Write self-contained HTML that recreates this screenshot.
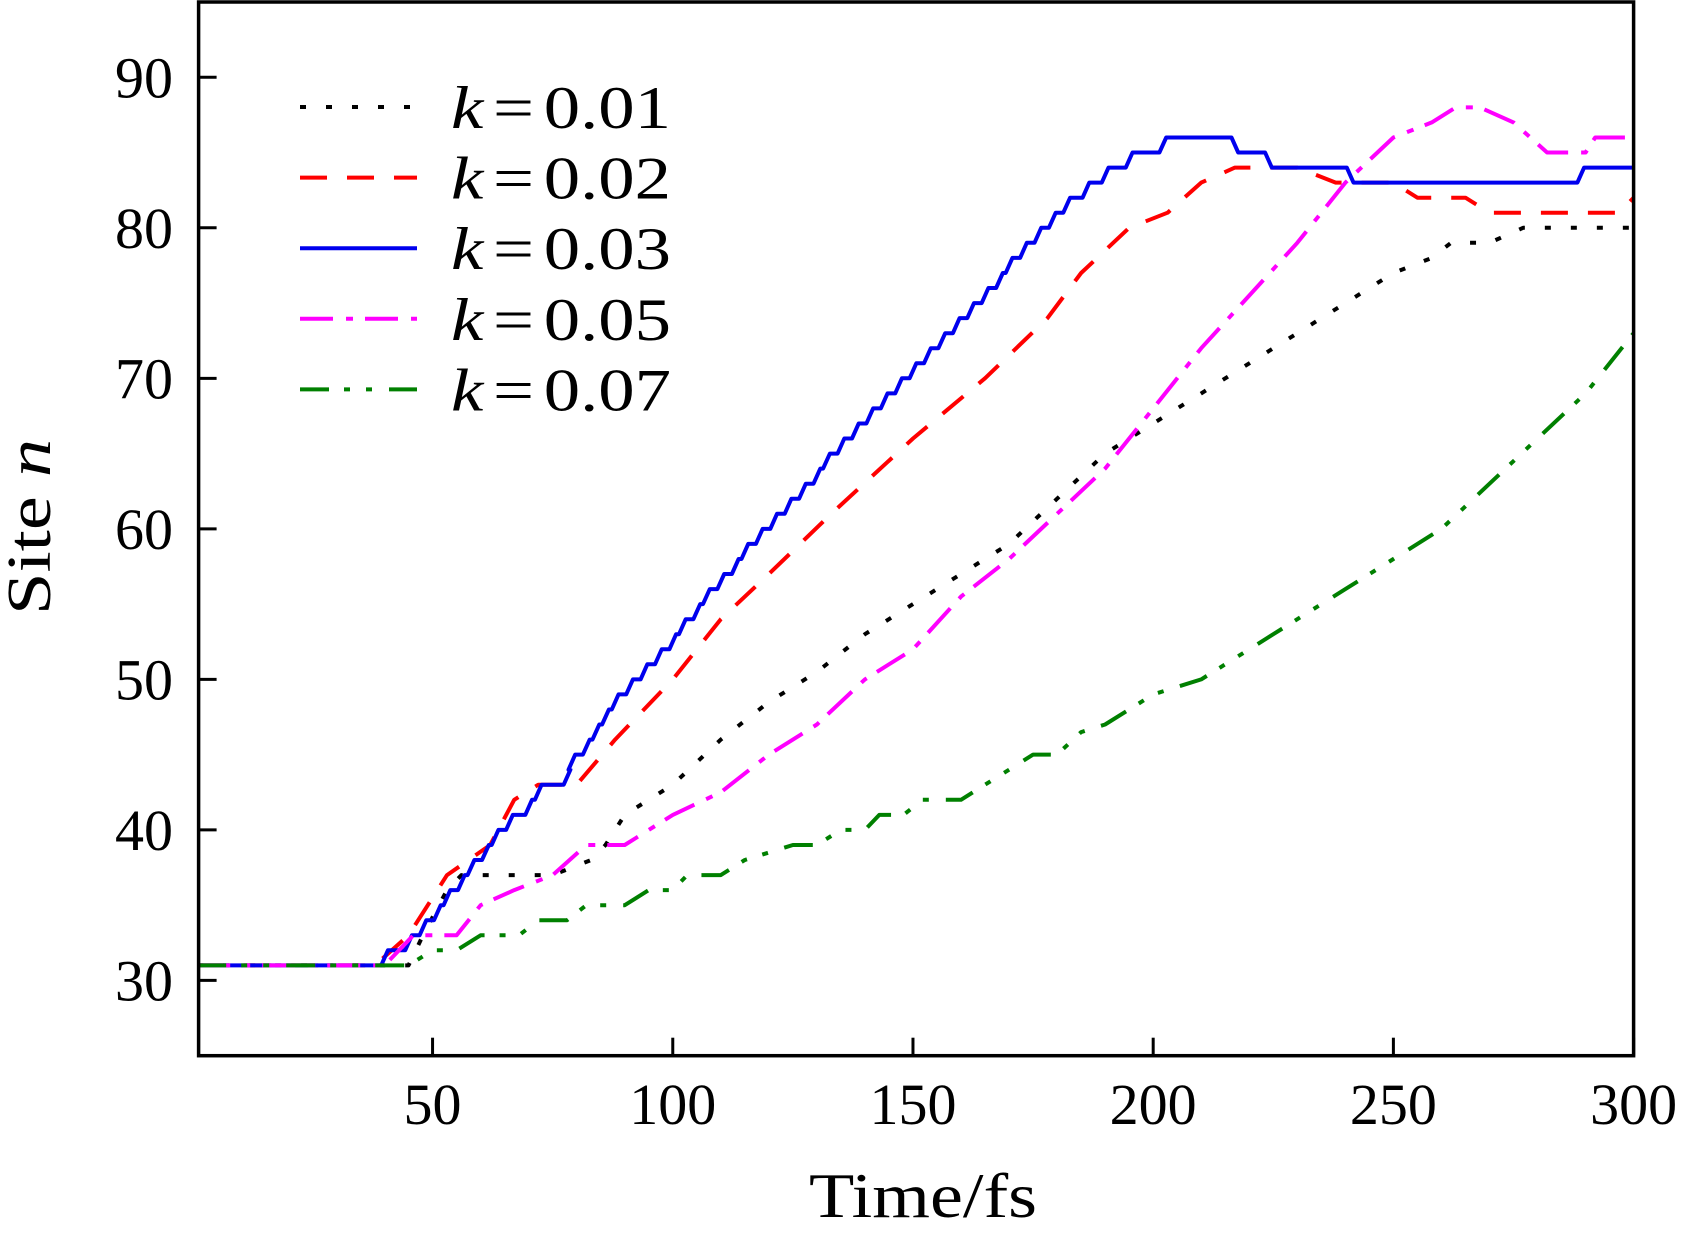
<!DOCTYPE html>
<html><head><meta charset="utf-8"><style>
html,body{margin:0;padding:0;background:#fff;}
svg{display:block;}
text{font-family:"Liberation Serif",serif;fill:#000;}
</style></head>
<body>
<svg id="chart" width="1683" height="1233" viewBox="0 0 1683 1233" xmlns="http://www.w3.org/2000/svg">
<g id="plot"></g>
<rect x="198.6" y="2" width="1435" height="1053.7" fill="none" stroke="#000" stroke-width="3.5"/>
<g id="ticks"></g>
<text x="923" y="1217" font-size="64" text-anchor="middle" textLength="228" lengthAdjust="spacingAndGlyphs">Time/fs</text>
<text transform="translate(50,527) rotate(-90)" font-size="62" text-anchor="middle" textLength="176" lengthAdjust="spacingAndGlyphs">Site <tspan font-style="italic">n</tspan></text>
<g id="legend"></g>
</svg>
<script>
const xTicks=[50,100,150,200,250,300];
const yTicks=[30,40,50,60,70,80,90];
const seriesLabels=["k = 0.01","k = 0.02","k = 0.03","k = 0.05","k = 0.07"];
const t001=[1,45,48,53,56,75,83,86,90,100,110,120,130,140,150,160,170,180,190,200,210,220,230,240,250,258,262,270,277,300];
const n001=[31,31,33,36,37,37,38,39,41,43,46,48.5,50.5,53,55,57,59,62,65,67,69,71,73,75,77,78,79,79,80,80];
const t002=[1,38,45,53,62,67,72,80,88,100,110,120,133,150,165,178,185,195,203,210,217,230,238,250,255,265,270,297,300];
const n002=[31,31,33,37,39,42,43,43,46,50,54,57,61,66,70,74,77,80,81,83,84,84,83,83,82,82,81,81,82];
// k=0.03: time at which each new site is reached (staircase)
const t003=[38,40,45,48,51,53,56,58,61,63,66,70,72,78,79,82,84,86,88,91,94,97,100,102,105,107,110,113,115,118,121,124,127,130,132,135,138,141,144,147,150,153,156,159,162,165,168,170,173,176,179,182,186,190,195,202,217,224,241,289];
const n003=[31,32,33,34,35,36,37,38,39,40,41,42,43,44,45,46,47,48,49,50,51,52,53,54,55,56,57,58,59,60,61,62,63,64,65,66,67,68,69,70,71,72,73,74,75,76,77,78,79,80,81,82,83,84,85,86,85,84,83,84];
const t005=[1,40,46,55,60,67,75,82,90,100,110,120,130,140,150,160,170,180,190,200,210,220,230,240,250,258,263,268,275,282,290,292,300];
const n005=[31,31,33,33,35,36,37,39,39,41,42.5,45,47,50,52,55.5,58,61,64,68,72,75.5,79,83,86,87,88,88,87,85,85,86,86];
const t007=[1,45,50,55,60,68,72,78,82,90,95,100,103,110,115,120,125,130,135,140,143,148,152,160,165,170,175,180,185,190,195,200,210,215,220,225,230,240,250,255,260,270,280,290,300];
const n007=[31,31,32,32,33,33,34,34,35,35,36,36,37,37,38,38.5,39,39,40,40,41,41,42,42,43,44,45,45,46.5,47,48,49,50,51,52,53,54,56,58,59,60,63,66,69,73];

const X0=198.6,X1=1633.6,Y0=1055.7,Y1=2,xmin=1.3,xmax=300,ymin=25,ymax=95;
const sx=v=>X0+(v-xmin)/(xmax-xmin)*(X1-X0);
const sy=v=>Y0-(v-ymin)/(ymax-ymin)*(Y0-Y1);
const NS="http://www.w3.org/2000/svg";
const styles=[
 {c:"#000",d:"6 20",n:"series-k-0-01"},
 {c:"#f00",d:"27 20",n:"series-k-0-02"},
 {c:"#0000ee",d:"",n:"series-k-0-03"},
 {c:"#f0f",d:"33 13 7 12",n:"series-k-0-05"},
 {c:"#008000",d:"29 15 6 16 6 17",n:"series-k-0-07"}];
function stepPoints(ts,ns){
  const pts=[[xmin,ns[0]],[ts[0],ns[0]]];
  for(let i=1;i<ts.length;i++){
    pts.push([ts[i]-0.7,ns[i-1]]);
    pts.push([ts[i]+0.7,ns[i]]);
  }
  pts.push([xmax,ns[ns.length-1]]);
  return pts;
}
const data=[
  t001.map((t,j)=>[t,n001[j]]),
  t002.map((t,j)=>[t,n002[j]]),
  stepPoints(t003,n003),
  t005.map((t,j)=>[t,n005[j]]),
  t007.map((t,j)=>[t,n007[j]])];
const plot=document.getElementById('plot');
data.forEach((s,i)=>{
  const p=document.createElementNS(NS,'polyline');
  
  
  p.setAttribute('points',s.map(q=>sx(q[0]).toFixed(1)+','+sy(q[1]).toFixed(1)).join(' '));
  p.setAttribute('fill','none');p.setAttribute('stroke',styles[i].c);
  p.setAttribute('stroke-width','4');p.setAttribute('stroke-linejoin','round');
  if(styles[i].d)p.setAttribute('stroke-dasharray',styles[i].d);
  plot.appendChild(p);
});
const tg=document.getElementById('ticks');
xTicks.forEach(v=>{
  const l=document.createElementNS(NS,'line');
  
  
  l.setAttribute('x1',sx(v));l.setAttribute('x2',sx(v));l.setAttribute('y1',Y0);l.setAttribute('y2',Y0-18);
  l.setAttribute('stroke','#000');l.setAttribute('stroke-width','3');tg.appendChild(l);
  const t=document.createElementNS(NS,'text');
  
  
  t.setAttribute('x',sx(v));t.setAttribute('y',1124);t.setAttribute('font-size','58');t.setAttribute('text-anchor','middle');
  t.textContent=v;tg.appendChild(t);
});
yTicks.forEach(v=>{
  const l=document.createElementNS(NS,'line');
  
  
  l.setAttribute('x1',X0);l.setAttribute('x2',X0+18);l.setAttribute('y1',sy(v));l.setAttribute('y2',sy(v));
  l.setAttribute('stroke','#000');l.setAttribute('stroke-width','3');tg.appendChild(l);
  const t=document.createElementNS(NS,'text');
  
  
  t.setAttribute('x',173);t.setAttribute('y',sy(v)+20);t.setAttribute('font-size','58');t.setAttribute('text-anchor','end');
  t.textContent=v;tg.appendChild(t);
});
const lg=document.getElementById('legend');
seriesLabels.forEach((lab,i)=>{
  const y=107+i*70.6;
  const l=document.createElementNS(NS,'line');
  
  
  l.setAttribute('x1',300);l.setAttribute('x2',417);l.setAttribute('y1',y);l.setAttribute('y2',y);
  l.setAttribute('stroke',styles[i].c);l.setAttribute('stroke-width','4');
  if(styles[i].d)l.setAttribute('stroke-dasharray',styles[i].d);
  lg.appendChild(l);
  const t=document.createElementNS(NS,'text');
  
  
  t.setAttribute('x',451);t.setAttribute('y',y+21);t.setAttribute('font-size','60');
  t.setAttribute('textLength','220');t.setAttribute('lengthAdjust','spacingAndGlyphs');
  const parts=lab.split(' = ');
  t.innerHTML='<tspan font-style="italic">'+parts[0]+'</tspan><tspan dx="8">=</tspan><tspan dx="8">'+parts[1]+'</tspan>';
  lg.appendChild(t);
});
</script>
</body></html>
